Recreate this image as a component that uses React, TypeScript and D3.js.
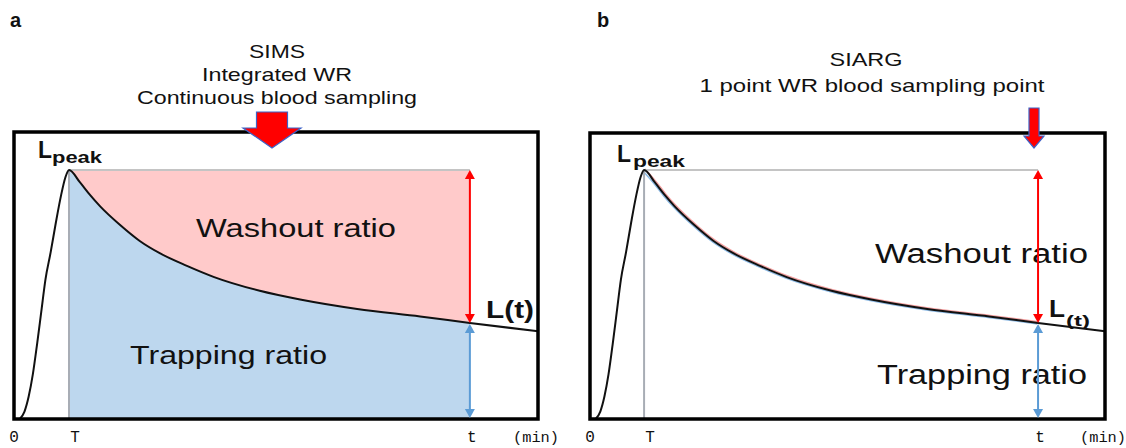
import React from "react";
import * as d3 from "d3";

// ---- data (illustrative time-activity curve) ----
const timePoints = [1.1, 2.0, 2.8, 3.6, 4.4, 5.2, 6.0, 7.0, 8.0, 9.0, 9.8, 10.5, 12.6, 14.5, 16.4, 20.2, 24.0, 27.9, 33.0, 38.2, 46.9, 54.6, 65.5, 77.5, 87.0, 100];
const activity = [0, 3, 9, 18, 30, 43, 56, 67, 79, 90, 97, 100, 95, 90, 85.5, 78, 71.5, 66.5, 61.5, 57, 51.5, 48, 44.2, 41.2, 38.6, 35.2];
const peakTime = 10.5;
const sampleTime = 87;
const timeMax = 100;
const peakValue = 100;
const tickLabels = ["0", "T", "t"];
const tickTimes = [0, peakTime, sampleTime];
const unitLabel = "(min)";
const titlesA = ["SIMS", "Integrated WR", "Continuous blood sampling"];
const titlesB = ["SIARG", "1 point WR blood sampling point"];

const FONT = "'Liberation Sans', Arial, sans-serif";
const MONO = "'Liberation Mono', 'DejaVu Sans Mono', monospace";

type Pt = { t: number; v: number };
const points: Pt[] = timePoints.map((t, i) => ({ t, v: activity[i] }));
const sampleValue = activity[timePoints.indexOf(sampleTime)];

function DoubleArrow({ x, y1, y2, color }: { x: number; y1: number; y2: number; color: string }) {
  const h = 9, w = 5;
  return (
    <g>
      <line x1={x} x2={x} y1={y1 + h - 1} y2={y2 - h + 1} stroke={color} strokeWidth={2} />
      <polygon points={`${x},${y1} ${x - w},${y1 + h} ${x + w},${y1 + h}`} fill={color} />
      <polygon points={`${x},${y2} ${x - w},${y2 - h} ${x + w},${y2 - h}`} fill={color} />
    </g>
  );
}

function BlockArrow({ cx, top, headTop, tip, sw, hw }: { cx: number; top: number; headTop: number; tip: number; sw: number; hw: number }) {
  const d = `M${cx - sw},${top} L${cx + sw},${top} L${cx + sw},${headTop} L${cx + hw},${headTop} L${cx},${tip} L${cx - hw},${headTop} L${cx - sw},${headTop} Z`;
  return <path d={d} fill="#ff0000" stroke="#3d62c8" strokeWidth={1.2} />;
}

type PanelProps = {
  left: number;
  right: number;
  top: number;
  filled: boolean;
  children?: React.ReactNode;
};

function Panel({ left, right, top, filled, children }: PanelProps) {
  const bottom = 419;
  const x = d3.scaleLinear().domain([0, timeMax]).range([left, right]);
  const y = d3.scaleLinear().domain([0, peakValue]).range([bottom, 170]);
  const line = d3.line<Pt>().x((d) => x(d.t)).y((d) => y(d.v)).curve(d3.curveMonotoneX);
  const inside = points.filter((d) => d.t >= peakTime && d.t <= sampleTime);
  const washArea = d3.area<Pt>().x((d) => x(d.t)).y0(y(peakValue)).y1((d) => y(d.v)).curve(d3.curveMonotoneX);
  const trapArea = d3.area<Pt>().x((d) => x(d.t)).y0(y(0)).y1((d) => y(d.v)).curve(d3.curveMonotoneX);
  const xT = x(peakTime);
  const xs = x(sampleTime);
  const ys = y(sampleValue);
  return (
    <g>
      {filled && <path d={washArea(inside) || ""} fill="#ffcaca" />}
      {filled && <path d={trapArea(inside) || ""} fill="#bdd7ee" />}
      {!filled && (
        <g>
          <path d={line(inside) || ""} fill="none" stroke="#f4a0a0" strokeWidth={1.5} transform="translate(1,-1)" />
          <path d={line(inside) || ""} fill="none" stroke="#8fbce6" strokeWidth={1.5} transform="translate(-1,1)" />
        </g>
      )}
      <line x1={xT} x2={xs} y1={y(peakValue)} y2={y(peakValue)} stroke="#c4c4c4" strokeWidth={2} />
      <line x1={xT} x2={xT} y1={y(peakValue)} y2={bottom} stroke="#a8adb5" strokeWidth={2} />
      <path d={line(points) || ""} fill="none" stroke="#111" strokeWidth={2} />
      <rect x={left} y={top} width={right - left} height={bottom - top} fill="none" stroke="#000" strokeWidth={3.5} />
      {tickTimes.map((t, i) => (
        <text key={i} x={x(t) + (i === 0 ? 0 : i === 1 ? 6 : 2)} y={442} fontFamily={MONO} fontSize={16} textAnchor="middle" fill="#111">
          {tickLabels[i]}
        </text>
      ))}
      <text x={x(timeMax) - 25} y={442} fontFamily={MONO} fontSize={15} fill="#111" textLength={46} lengthAdjust="spacingAndGlyphs">
        {unitLabel}
      </text>
      {children}
      <DoubleArrow x={xs} y1={y(peakValue)} y2={ys} color="#ff0000" />
      <DoubleArrow x={xs} y1={ys + 1} y2={bottom - 1} color="#5b9bd5" />
    </g>
  );
}

export default function App() {
  return (
    <svg width={1126} height={448} viewBox="0 0 1126 448" style={{ position: "absolute", left: 0, top: 0, display: "block", background: "#fff" }}>
      <rect x={0} y={0} width={1126} height={448} fill="#fff" />
      {/* Panel a */}
      <text x={10} y={27} fontFamily={FONT} fontWeight="bold" fontSize={20} fill="#111">a</text>
      {titlesA.map((s, i) => (
        <text key={s} x={277} y={58 + i * 23} fontFamily={FONT} fontSize={18.5} textAnchor="middle" fill="#111"
          textLength={[56, 150, 280][i]} lengthAdjust="spacingAndGlyphs">{s}</text>
      ))}
      <Panel left={14} right={538} top={132} filled={true}>
        <text x={196} y={237} fontFamily={FONT} fontSize={26} fill="#111" textLength={200} lengthAdjust="spacingAndGlyphs">Washout ratio</text>
        <text x={130} y={364} fontFamily={FONT} fontSize={26} fill="#111" textLength={197} lengthAdjust="spacingAndGlyphs">Trapping ratio</text>
      </Panel>
      <BlockArrow cx={272} top={112} headTop={128} tip={148} sw={15.5} hw={29} />
      <text x={38} y={158} fontFamily={FONT} fontWeight="bold" fontSize={24} fill="#111" textLength={14} lengthAdjust="spacingAndGlyphs">L</text>
      <text x={52} y={163} fontFamily={FONT} fontWeight="bold" fontSize={17} fill="#111" textLength={50} lengthAdjust="spacingAndGlyphs">peak</text>
      <text x={486} y={318} fontFamily={FONT} fontWeight="bold" fontSize={24} fill="#111" textLength={48} lengthAdjust="spacingAndGlyphs">L(t)</text>

      {/* Panel b */}
      <text x={597} y={27} fontFamily={FONT} fontWeight="bold" fontSize={20} fill="#111">b</text>
      {titlesB.map((s, i) => (
        <text key={s} x={[866, 872][i]} y={66 + i * 26} fontFamily={FONT} fontSize={18.5} textAnchor="middle" fill="#111"
          textLength={[73, 345][i]} lengthAdjust="spacingAndGlyphs">{s}</text>
      ))}
      <Panel left={590} right={1105} top={133} filled={false}>
        <text x={875} y={263} fontFamily={FONT} fontSize={27} fill="#111" textLength={213} lengthAdjust="spacingAndGlyphs">Washout ratio</text>
        <text x={877} y={384} fontFamily={FONT} fontSize={27} fill="#111" textLength={210} lengthAdjust="spacingAndGlyphs">Trapping ratio</text>
      </Panel>
      <BlockArrow cx={1034} top={108} headTop={136} tip={148} sw={5} hw={10} />
      <text x={617} y={162} fontFamily={FONT} fontWeight="bold" fontSize={24} fill="#111" textLength={14} lengthAdjust="spacingAndGlyphs">L</text>
      <text x={633} y={167} fontFamily={FONT} fontWeight="bold" fontSize={17} fill="#111" textLength={52} lengthAdjust="spacingAndGlyphs">peak</text>
      <text x={1049} y={317} fontFamily={FONT} fontWeight="bold" fontSize={24} fill="#111" textLength={16} lengthAdjust="spacingAndGlyphs">L</text>
      <text x={1066} y={326} fontFamily={FONT} fontWeight="bold" fontSize={15} fill="#111" textLength={24} lengthAdjust="spacingAndGlyphs">(t)</text>
    </svg>
  );
}
